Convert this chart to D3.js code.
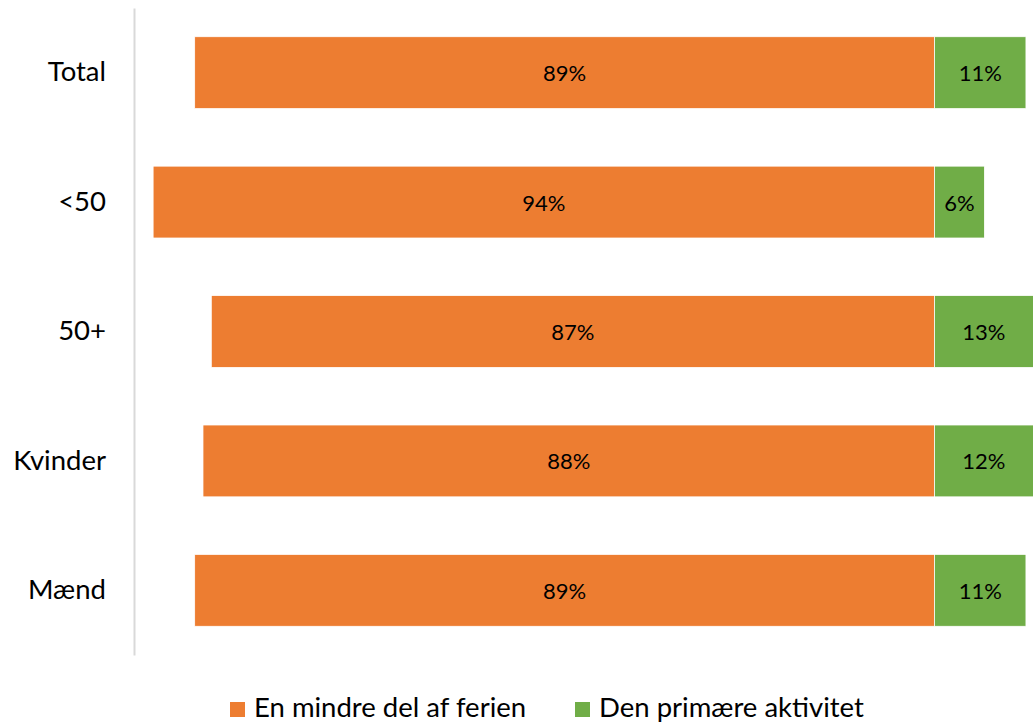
<!DOCTYPE html>
<html>
<head>
<meta charset="utf-8">
<script src="https://cdn.jsdelivr.net/npm/d3@7"></script>
<style>
  html, body { margin: 0; padding: 0; background: #fff; }
  svg { display: block; font-family: Lato, "Open Sans", sans-serif; }
</style>
</head>
<body>
<svg id="chart" width="1033" height="725"></svg>
<script>
// Categories, top to bottom
const categories = ["Total", "<50", "50+", "Kvinder", "Mænd"];
// Share who say it is a smaller part of the holiday (drawn to the left of zero)
const minorPart = [0.89, 0.94, 0.87, 0.88, 0.89];
// Share who say it is the primary activity (drawn to the right of zero)
const primaryActivity = [0.11, 0.06, 0.13, 0.12, 0.11];
const seriesNames = ["En mindre del af ferien", "Den primære aktivitet"];
const colors = ["#ED7D31", "#70AD47"];

const svg = d3.select("#chart");
const plot = { left: 134, right: 1033, top: 8, bottom: 655 };

const x = d3.scaleLinear().domain([-0.963, 0.1185]).range([plot.left, plot.right]);
const y = d3.scaleBand().domain(categories).range([plot.top, plot.bottom]).paddingInner(0.445).paddingOuter(0.222);

svg.append("defs").append("clipPath").attr("id", "plotClip")
  .append("rect").attr("x", plot.left).attr("y", plot.top)
  .attr("width", plot.right - plot.left).attr("height", plot.bottom - plot.top);

const rows = categories.map((c, i) => ({ cat: c, minor: minorPart[i], primary: primaryActivity[i] }));

const bars = svg.append("g").attr("clip-path", "url(#plotClip)");
const segs = [];
rows.forEach(r => {
  segs.push({ cat: r.cat, x0: x(-r.minor), x1: x(0), v: r.minor, c: colors[0] });
  segs.push({ cat: r.cat, x0: x(0), x1: x(r.primary), v: r.primary, c: colors[1] });
});

bars.selectAll("rect").data(segs).join("rect")
  .attr("x", d => d.x0).attr("y", d => y(d.cat))
  .attr("width", d => d.x1 - d.x0).attr("height", y.bandwidth())
  .attr("fill", d => d.c).attr("stroke", "#fff").attr("stroke-width", 0.75);

// Value labels centred on the visible part of each segment
svg.append("g").selectAll("text").data(segs).join("text")
  .attr("x", d => (Math.max(d.x0, plot.left) + Math.min(d.x1, plot.right)) / 2)
  .attr("y", d => y(d.cat) + y.bandwidth() / 2)
  .attr("text-anchor", "middle").attr("dominant-baseline", "central")
  .attr("font-size", 22).attr("fill", "#000")
  .text(d => d3.format(".0%")(d.v));

// Category axis
const axis = svg.append("g").attr("transform", `translate(${plot.left},0)`)
  .call(d3.axisLeft(y).tickSize(0).tickPadding(28));
axis.select(".domain").attr("stroke", "#D9D9D9").attr("stroke-width", 2);
axis.selectAll("text").attr("font-size", 27.5).attr("fill", "#000")
  .style("font-family", "Lato, 'Open Sans', sans-serif");

// Legend
const legendItems = [{ name: seriesNames[0], c: colors[0], x: 230 }, { name: seriesNames[1], c: colors[1], x: 575 }];
const lg = svg.append("g");
legendItems.forEach(it => {
  lg.append("rect").attr("x", it.x).attr("y", 702).attr("width", 15).attr("height", 15).attr("fill", it.c);
  lg.append("text").attr("x", it.x + 24).attr("y", 717)
    .attr("font-size", 27.5).attr("fill", "#000").text(it.name);
});
</script>
</body>
</html>
